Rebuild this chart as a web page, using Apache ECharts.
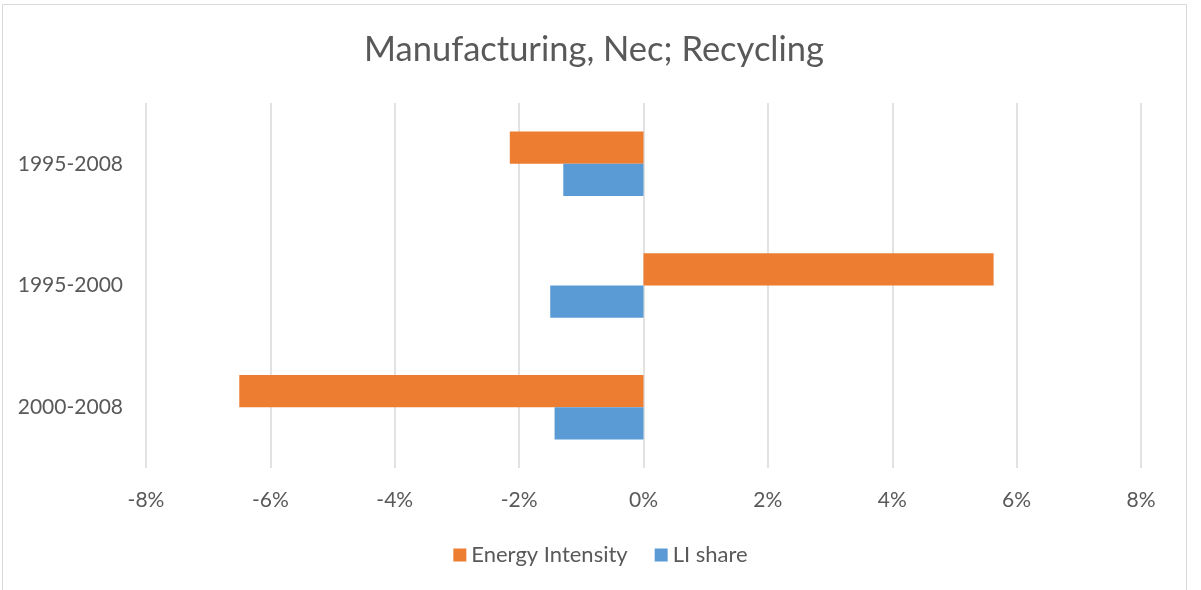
<!DOCTYPE html>
<html>
<head>
<meta charset="utf-8">
<title>Manufacturing, Nec; Recycling</title>
<script src="https://cdn.jsdelivr.net/npm/echarts@6/dist/echarts.min.js"></script>
<style>
  html, body { margin: 0; padding: 0; background: #ffffff; }
  #chart { width: 1201px; height: 590px; }
</style>
</head>
<body>
<div id="chart"></div>
<script>
// Periods, top to bottom
const periods = ['1995-2008', '1995-2000', '2000-2008'];
// Decomposition effects, in percent
const energyIntensity = [-2.15, 5.63, -6.50];
const liShare = [-1.29, -1.50, -1.43];
// Value axis range and step, in percent
const axisMin = -8;
const axisMax = 8;
const axisStep = 2;

const textColor = '#595959';
const fontFamily = 'Lato, "Open Sans", sans-serif';

const chart = echarts.init(document.getElementById('chart'));
chart.setOption({
  animation: false,
  backgroundColor: '#ffffff',
  textStyle: { fontFamily: fontFamily, color: textColor },
  graphic: [{
    type: 'rect',
    shape: { x: 2.5, y: 4.5, width: 1184, height: 600 },
    style: { fill: 'none', stroke: '#d9d9d9', lineWidth: 1 },
    silent: true
  }],
  title: {
    text: 'Manufacturing, Nec; Recycling',
    left: 594,
    top: 32,
    textAlign: 'center',
    padding: 0,
    textStyle: { fontFamily: fontFamily, fontSize: 34.5, fontWeight: 'normal', color: textColor }
  },
  legend: {
    data: ['Energy Intensity', 'LI share'],
    left: 'center',
    top: 539,
    icon: 'rect',
    itemWidth: 13,
    itemHeight: 13,
    itemGap: 27,
    textStyle: { fontFamily: fontFamily, fontSize: 22, color: textColor, padding: [0, 0, 0, 0] }
  },
  grid: { left: 146, right: 60, top: 103, bottom: 122, containLabel: false },
  xAxis: {
    type: 'value',
    min: axisMin,
    max: axisMax,
    interval: axisStep,
    axisLine: { show: false },
    axisTick: { show: false },
    axisLabel: { formatter: '{value}%', fontSize: 21, color: textColor, margin: 22, fontFamily: fontFamily },
    splitLine: { show: true, lineStyle: { color: '#d9d9d9', width: 1.5 } }
  },
  yAxis: {
    type: 'category',
    data: periods,
    inverse: true,
    axisLine: { show: false },
    axisTick: { show: false },
    axisLabel: { fontSize: 21, color: textColor, margin: 23, fontFamily: fontFamily }
  },
  series: [
    {
      name: 'Energy Intensity',
      type: 'bar',
      data: energyIntensity,
      barGap: '0%',
      barCategoryGap: '47%',
      itemStyle: { color: '#ed7d31' }
    },
    {
      name: 'LI share',
      type: 'bar',
      data: liShare,
      barGap: '0%',
      barCategoryGap: '47%',
      itemStyle: { color: '#5b9bd5' }
    }
  ]
});
</script>
</body>
</html>
